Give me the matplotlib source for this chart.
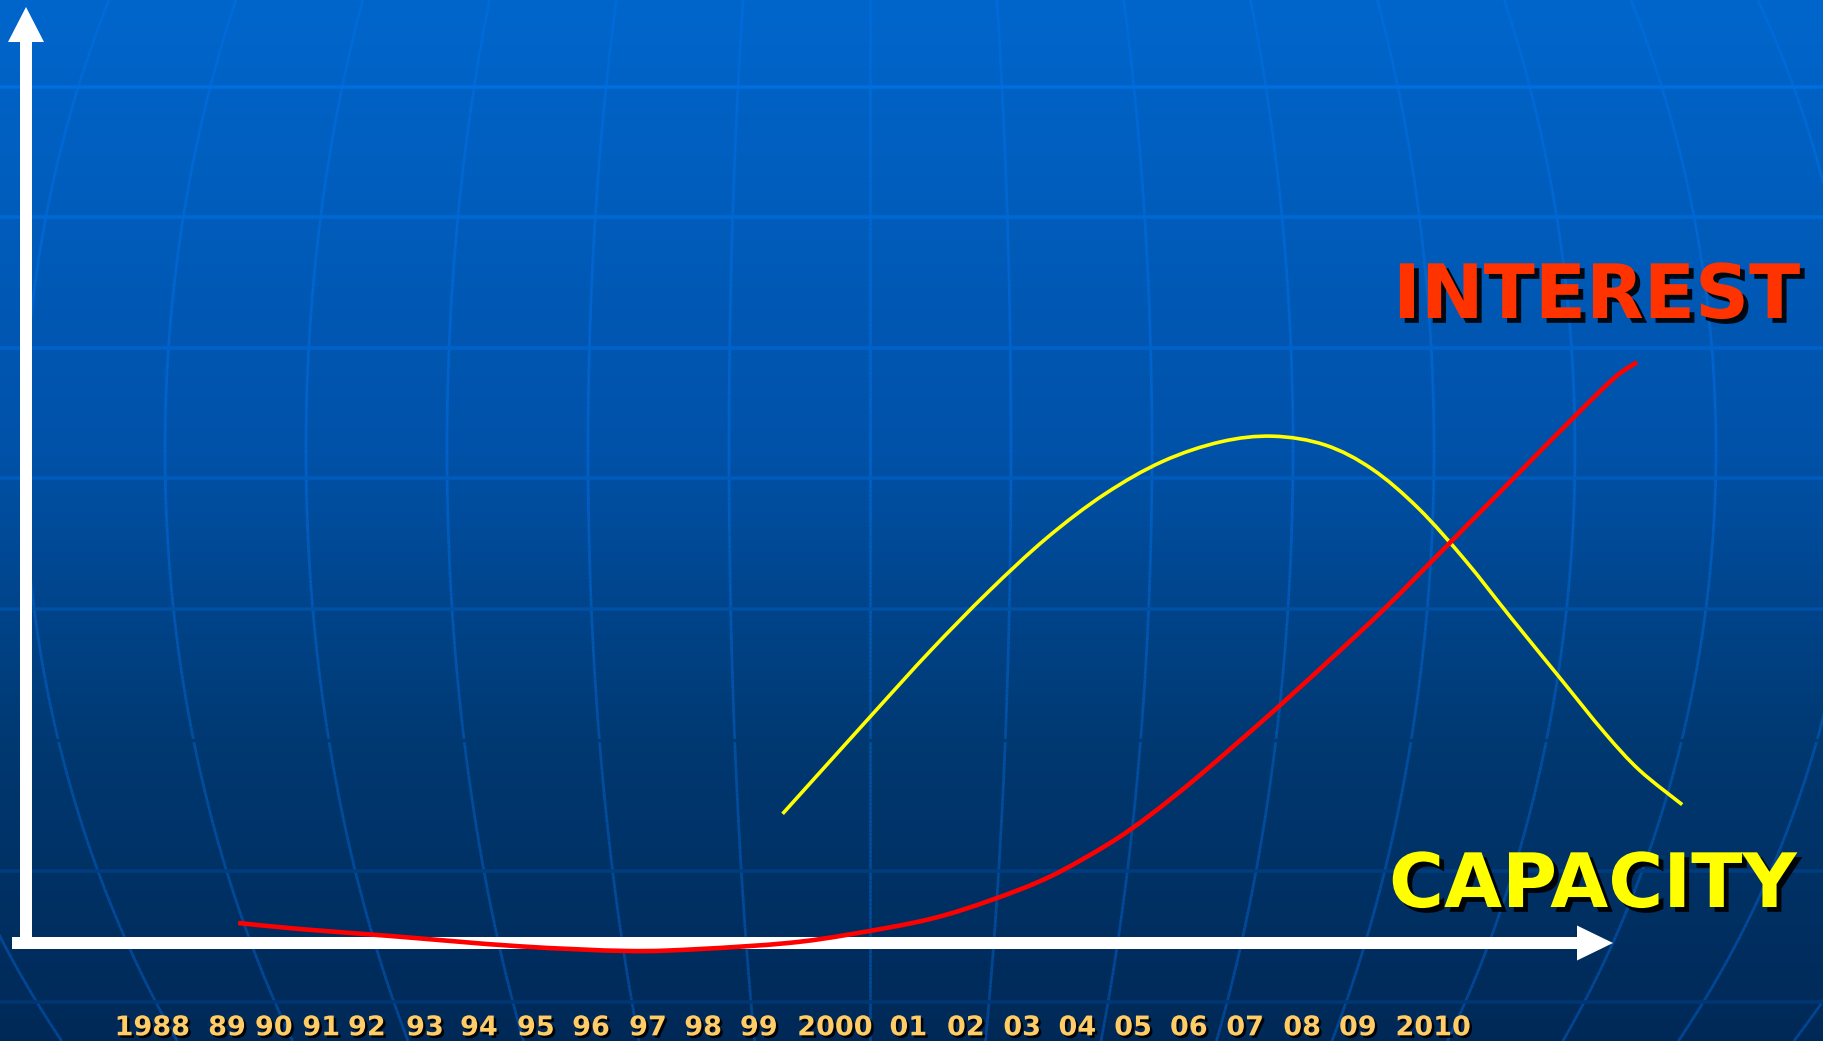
import numpy as np
import matplotlib
matplotlib.use("Agg")
import matplotlib.pyplot as plt
import matplotlib.patheffects as pe
from matplotlib.collections import LineCollection
from matplotlib.path import Path
from matplotlib.patches import PathPatch

plt.rcParams['font.family'] = ['DejaVu Sans']

# year labels along the bottom and where they sit (in years, the row is unevenly spaced)
year_labels = ['1988', '89', '90', '91', '92', '93', '94', '95', '96', '97', '98', '99',
               '2000', '01', '02', '03', '04', '05', '06', '07', '08', '09', '2010']
label_pos = [1988.40, 1989.66, 1990.45, 1991.25, 1992.02, 1993.00, 1993.91, 1994.87,
             1995.80, 1996.76, 1997.69, 1998.63, 1999.91, 2001.15, 2002.12, 2003.07,
             2004.00, 2004.94, 2005.88, 2006.83, 2007.79, 2008.73, 2010.00]

# INTEREST curve (red)
red_year = [1989.85, 1990.89, 1992.38, 1994.57, 1996.42, 1997.64, 1999.12, 2000.18,
            2001.52, 2002.56, 2003.54, 2004.53, 2005.23, 2006.07, 2007.25, 2008.26,
            2009.21, 2010.28, 2011.31, 2012.31, 2013.05, 2013.44]
red_level = [2.5, 1.75, 0.9, -0.4, -1.0, -0.75, 0.0, 1.1,
             3.0, 5.4, 8.3, 12.4, 16.0, 21.0, 28.6, 35.4,
             42.0, 50.0, 57.75, 65.25, 70.6, 72.6]

# CAPACITY curve (yellow)
yellow_year = [1999.03, 2000.54, 2001.52, 2002.50, 2003.48, 2004.46, 2005.44, 2006.42,
               2007.30, 2008.18, 2008.97, 2009.75, 2010.54, 2011.32, 2012.11, 2012.89,
               2013.48, 2014.20]
yellow_level = [16.15, 28.55, 36.5, 43.9, 50.6, 56.1, 60.2, 62.65,
                63.35, 62.25, 59.25, 54.35, 47.85, 40.6, 33.4, 26.3,
                21.6, 17.3]

W, H = 1823, 1041

# background gradient
stops_y = [0, 450, 750, H]
stops_g = [0.40, 0.32, 0.22, 0.16]
stops_b = [0.80, 0.66, 0.44, 0.34]


def bg_color(y):
    return np.array([0.0, np.interp(y, stops_y, stops_g), np.interp(y, stops_y, stops_b)])


def smooth_path(xs, ys):
    # catmull-rom through the points, drawn as cubic bezier segments
    p = np.column_stack([xs, ys]).astype(float)
    p = np.vstack([p[0], p, p[-1]])
    verts = [p[1]]
    codes = [Path.MOVETO]
    for i in range(1, len(p) - 2):
        c1 = p[i] + (p[i + 1] - p[i - 1]) / 6
        c2 = p[i + 1] - (p[i + 2] - p[i]) / 6
        verts += [c1, c2, p[i + 1]]
        codes += [Path.CURVE4] * 3
    return Path(verts, codes)


fig = plt.figure(figsize=(W / 100, H / 100), dpi=100)
bg = fig.add_axes([0, 0, 1, 1])
bg.set_xlim(0, W)
bg.set_ylim(H, 0)
bg.axis('off')

rows = np.arange(H)
grad = np.stack([bg_color(y) for y in rows])[:, None, :]
bg.imshow(grad, extent=[0, W, H, 0], aspect='auto', zorder=0)

# globe-like meridians
ys = np.linspace(0, H, 240)
for k in range(-8, 9):
    xs = 870 + 141 * k * np.sqrt(1 - ((ys - 450) / 1030) ** 2)
    pts = np.column_stack([xs, ys]).reshape(-1, 1, 2)
    segs = np.concatenate([pts[:-1], pts[1:]], axis=1)
    t = ys[:-1] / H
    cols = [np.clip(bg_color(y) + np.array([0.01 * tt, 0.02 + 0.09 * tt, 0.05 + 0.18 * tt]), 0, 1)
            for y, tt in zip(ys[:-1], t)]
    bg.add_collection(LineCollection(segs, colors=cols, linewidths=2.0, zorder=1))

# hidden band that breaks the meridians
bg.plot([0, W], [740, 740], color=bg_color(740), lw=2.5, zorder=2)

# horizontal grid lines
for gy in [87, 217, 348, 478, 609, 871, 1002]:
    c = np.clip(bg_color(gy) + np.array([0.0, 0.045, 0.095]), 0, 1)
    bg.plot([0, W], [gy, gy], color=c, lw=2.6, zorder=2)

# white axes arrows
bg.arrow(12, 943, 1613 - 12, 0, width=12, head_width=35, head_length=36,
         length_includes_head=True, fc='white', ec='none', zorder=3)
bg.arrow(26, 949, 0, 7 - 949, width=12, head_width=36, head_length=35,
         length_includes_head=True, fc='white', ec='none', zorder=3)

big_fx = [pe.SimplePatchShadow(offset=(3.5, -3.5), shadow_rgbFace='black', alpha=0.9), pe.Normal()]
bg.text(1393, 318, 'INTEREST', color='#FF3300', fontsize=54, fontweight='bold',
        va='baseline', ha='left', path_effects=big_fx, zorder=5)
bg.text(1389, 907, 'CAPACITY', color='#FFFF00', fontsize=54, fontweight='bold',
        va='baseline', ha='left', path_effects=big_fx, zorder=5)

# data axes on top
ax = fig.add_axes([0, 0, 1, 1])
ax.patch.set_alpha(0)
ax.set_xlim(1993 - 425 / 59.3, 1993 + (W - 425) / 59.3)
ax.set_ylim((943 - H) / 8, 943 / 8)
for s in ax.spines.values():
    s.set_visible(False)
ax.set_yticks([])

ax.add_patch(PathPatch(smooth_path(yellow_year, yellow_level), fill=False, ec='#FFFF00',
                       lw=2.6, capstyle='butt', joinstyle='round', zorder=4))
ax.add_patch(PathPatch(smooth_path(red_year, red_level), fill=False, ec='#FF0000',
                       lw=3.3, capstyle='butt', joinstyle='round', zorder=4))

ax.set_xticks(label_pos)
ax.set_xticklabels(year_labels)
ax.tick_params(axis='x', length=0, pad=-18.5, labelsize=19.5, labelcolor='#FFCC66')
for lab in ax.get_xticklabels():
    lab.set_fontweight('bold')
    lab.set_path_effects([pe.SimplePatchShadow(offset=(1.8, -1.8), shadow_rgbFace='black', alpha=0.9),
                          pe.Normal()])

fig.savefig('out.png', dpi=100)
